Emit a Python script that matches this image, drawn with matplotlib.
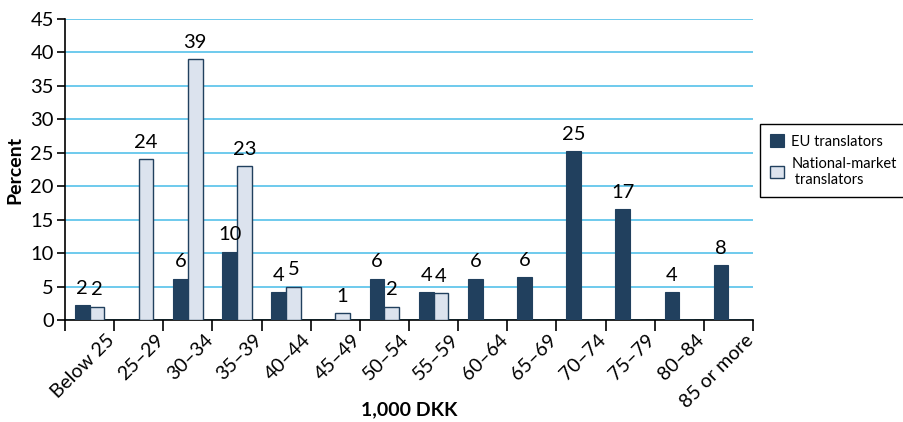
import matplotlib.pyplot as plt
import matplotlib.transforms as mtransforms
import numpy as np

plt.rcParams['font.family'] = ['Lato', 'DejaVu Sans']

categories = ["Below 25", "25\u201329", "30\u201334", "35\u201339", "40\u201344", "45\u201349",
              "50\u201354", "55\u201359", "60\u201364", "65\u201369", "70\u201374", "75\u201379",
              "80\u201384", "85 or more"]
eu_values = [2.2, 0, 6.2, 10.2, 4.2, 0, 6.2, 4.2, 6.2, 6.4, 25.2, 16.6, 4.2, 8.2]
national_values = [2.0, 24, 39, 23, 5, 1, 2, 4, 0, 0, 0, 0, 0, 0]

eu_color = "#21405e"
nat_color = "#dce3ee"
grid_color = "#62c6ec"

fig = plt.figure(figsize=(9.04, 4.22), dpi=100)
ax = fig.add_axes([0.0719, 0.2417, 0.7611, 0.7133])

x = np.arange(len(categories))
w = 0.3
ax.bar(x - w / 2, eu_values, width=w, color=eu_color, edgecolor=eu_color,
       linewidth=0.8, label="EU translators", zorder=3)
ax.bar(x + w / 2, national_values, width=w, color=nat_color, edgecolor=eu_color,
       linewidth=1.0, label="National-market\n translators", zorder=3)

# value labels, only where a bar exists
for xi, v in zip(x, eu_values):
    if v > 0:
        ax.annotate(f"{round(v)}", (xi - w / 2, v), xytext=(0, 6), textcoords="offset points",
                    ha="center", va="bottom", fontsize=14.5)
for xi, v in zip(x, national_values):
    if v > 0:
        ax.annotate(f"{round(v)}", (xi + w / 2, v), xytext=(0, 6), textcoords="offset points",
                    ha="center", va="bottom", fontsize=14.5)

ax.set_xlim(-0.5, len(categories) - 0.5)
ax.set_ylim(0, 45)
ax.set_yticks(range(0, 46, 5))
ax.yaxis.grid(True, color=grid_color, linewidth=1.3, zorder=0)
ax.set_axisbelow(True)
for s in ["top", "right"]:
    ax.spines[s].set_visible(False)
ax.spines["left"].set_linewidth(1.2)
ax.spines["bottom"].set_linewidth(1.2)

ax.tick_params(axis="y", labelsize=14.5, length=6, width=1.2, pad=2)
ax.set_xticks(x)
ax.set_xticks(np.arange(-0.5, len(categories), 1), minor=True)
ax.tick_params(axis="x", which="major", length=0, pad=8)
ax.tick_params(axis="x", which="minor", length=8, width=1.2)
ax.set_xticklabels(categories, rotation=45, ha="right", va="top",
                   rotation_mode="anchor", fontsize=14)
shift = mtransforms.ScaledTranslation(16 / 100, 0, fig.dpi_scale_trans)
for lbl in ax.get_xticklabels():
    lbl.set_transform(lbl.get_transform() + shift)

ax.set_ylabel("Percent", fontsize=14, fontweight="bold", va="center")
ax.yaxis.set_label_coords(-0.073, 0.5)
ax.set_xlabel("1,000 DKK", fontsize=14, fontweight="bold", va="center")
ax.xaxis.set_label_coords(0.5, -0.299)

leg = ax.legend(loc="upper left", bbox_to_anchor=(760 / 904, 1 - 124 / 422),
                bbox_transform=fig.transFigure, fontsize=10.5, frameon=True,
                fancybox=False, edgecolor="black", framealpha=1,
                handlelength=0.95, handleheight=0.95, handletextpad=0.5,
                borderpad=0.7, labelspacing=0.55, borderaxespad=0)
leg.get_frame().set_linewidth(1.0)

fig.savefig("out.png", dpi=100)
